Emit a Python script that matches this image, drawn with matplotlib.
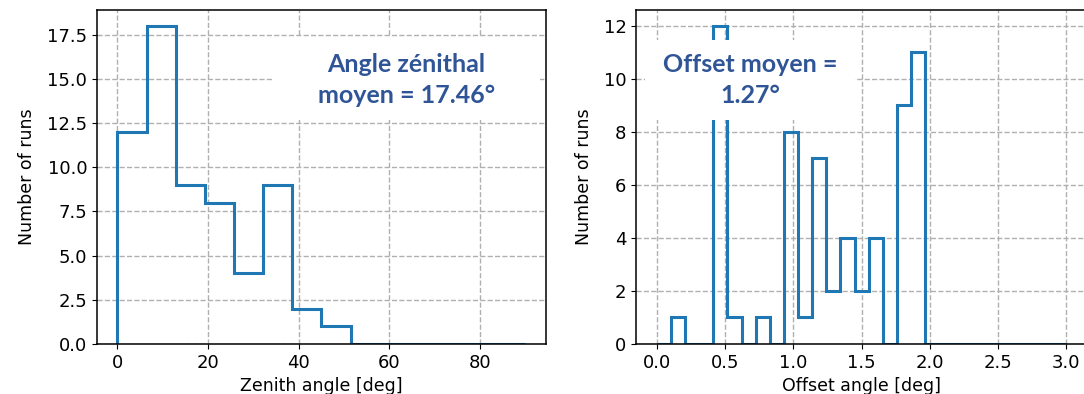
import numpy as np
import matplotlib
matplotlib.use("Agg")
import matplotlib.pyplot as plt
from matplotlib.patches import Rectangle

plt.rcParams["font.family"] = "DejaVu Sans"

# -----------------------------------
# DATA (counts)
# -----------------------------------

zenith_range = (0, 90)
zenith_counts = [12, 18, 9, 8, 4, 9, 2, 1, 0, 0, 0, 0, 0, 0]

offset_range = (0, 3)
offset_counts = [0, 1, 0, 0, 12, 1, 0, 1, 0, 8, 1, 7, 2, 4, 2,
                 4, 0, 9, 11, 0, 0, 0, 0, 0, 0, 0, 0, 0, 0]

zenith_text = "Angle zénithal\nmoyen = 17.46°"
offset_text = "Offset moyen =\n1.27°"

zenith_xticks = [0, 20, 40, 60, 80]
zenith_yticks = [0, 2.5, 5, 7.5, 10, 12.5, 15, 17.5]
offset_xticks = [0, 0.5, 1.0, 1.5, 2.0, 2.5, 3.0]
offset_yticks = [0, 2, 4, 6, 8, 10, 12]

TEXT_COLOR = "#2F5597"
LINE_COLOR = "#1f77b4"

fig = plt.figure(figsize=(10.84, 3.94), dpi=100)
ax1 = fig.add_axes([0.0895, 0.127, 0.414, 0.848])
ax2 = fig.add_axes([0.587, 0.127, 0.4156, 0.848])


def draw_hist(ax, counts, rng, xlabel, xticks, yticks):
    edges = np.linspace(rng[0], rng[1], len(counts) + 1)
    centers = (edges[:-1] + edges[1:]) / 2
    ax.hist(centers, bins=edges, weights=counts, histtype="step",
            color=LINE_COLOR, linewidth=2.2)
    ax.grid(True, linestyle="--", color="#b0b0b0", linewidth=1)
    ax.set_xticks(xticks)
    ax.set_yticks(yticks)
    ax.tick_params(labelsize=13)
    ax.set_xlabel(xlabel, fontsize=12.5)
    ax.set_ylabel("Number of runs", fontsize=12.5, labelpad=8)
    for s in ax.spines.values():
        s.set_linewidth(1.1)


draw_hist(ax1, zenith_counts, zenith_range, "Zenith angle [deg]",
          zenith_xticks, zenith_yticks)
draw_hist(ax2, offset_counts, offset_range, "Offset angle [deg]",
          offset_xticks, offset_yticks)

# white boxes behind the annotations
ax1.add_patch(Rectangle((0.392, 0.671), 0.596, 0.248, transform=ax1.transAxes,
                        facecolor="white", edgecolor="none", zorder=3))
ax2.add_patch(Rectangle((0.02, 0.671), 0.466, 0.24, transform=ax2.transAxes,
                        facecolor="white", edgecolor="none", zorder=3))

ax1.text(0.69, 0.79, zenith_text, transform=ax1.transAxes, ha="center",
         va="center", fontsize=18, fontweight="bold", family="Lato",
         color=TEXT_COLOR, linespacing=1.45, zorder=4)
ax2.text(0.253, 0.79, offset_text, transform=ax2.transAxes, ha="center",
         va="center", fontsize=18, fontweight="bold", family="Lato",
         color=TEXT_COLOR, linespacing=1.45, zorder=4)

fig.savefig("out.png", dpi=100)
